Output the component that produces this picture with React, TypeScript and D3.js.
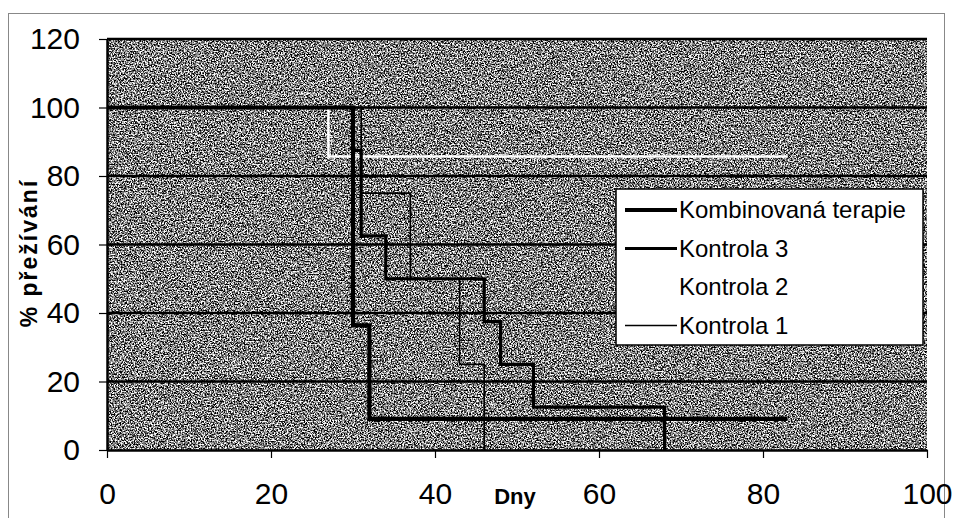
import { useEffect, useRef } from 'react';
import * as d3 from 'd3';

// Kaplan-Meier steps (day, % survival after the drop)
const kombTimes = [0, 30, 32, 83];
const kombSurv = [100, 36.4, 9.1, 9.1];
const k3Times = [0, 30, 31, 34, 46, 48, 52, 68];
const k3Surv = [100, 87.5, 62.5, 50, 37.5, 25, 12.5, 0];
const k2Times = [0, 27, 83];
const k2Surv = [100, 85.7, 85.7];
const k1Times = [0, 31, 37, 43, 46];
const k1Surv = [100, 75, 50, 25, 0];

const xTicks = [0, 20, 40, 60, 80, 100];
const yTicks = [0, 20, 40, 60, 80, 100, 120];

const legendNames = ['Kombinovaná terapie', 'Kontrola 3', 'Kontrola 2', 'Kontrola 1'];

const FONT = '"Liberation Sans", Arial, sans-serif';

export default function App() {
  const svgRef = useRef<SVGSVGElement>(null);

  useEffect(() => {
    if (!svgRef.current) return;
    const svg = d3.select(svgRef.current);
    svg.selectAll('*').remove();

    const W = 953, H = 518;
    const M = { left: 107, right: W - 927, top: 39, bottom: H - 450 };
    const x = d3.scaleLinear().domain([0, 100]).range([M.left, W - M.right]);
    const y = d3.scaleLinear().domain([0, 120]).range([H - M.bottom, M.top]);

    // noisy halftone background
    const defs = svg.append('defs');
    const f = defs.append('filter').attr('id', 'grain')
      .attr('x', 0).attr('y', 0).attr('width', '100%').attr('height', '100%')
      .attr('color-interpolation-filters', 'sRGB');
    f.append('feTurbulence').attr('type', 'fractalNoise')
      .attr('baseFrequency', 0.7).attr('numOctaves', 4).attr('seed', 7);
    f.append('feColorMatrix').attr('type', 'matrix')
      .attr('values', '1 0 0 0 0  1 0 0 0 0  1 0 0 0 0  0 0 0 0 1');
    const ct = f.append('feComponentTransfer');
    ['feFuncR', 'feFuncG', 'feFuncB'].forEach((fn) =>
      ct.append(fn).attr('type', 'linear').attr('slope', 3.2).attr('intercept', -1.1));

    // outer frame
    svg.append('rect')
      .attr('x', 8.5).attr('y', 13.5).attr('width', 936).attr('height', 530)
      .attr('fill', 'white').attr('stroke', '#888').attr('stroke-width', 1);

    svg.append('rect')
      .attr('x', x(0)).attr('y', y(120))
      .attr('width', x(100) - x(0)).attr('height', y(0) - y(120))
      .attr('fill', '#777')
      .attr('filter', 'url(#grain)');

    // gridlines
    svg.append('g').selectAll('line')
      .data(yTicks.filter((d) => d > 0))
      .join('line')
      .attr('x1', x(0)).attr('x2', x(100))
      .attr('y1', (d) => y(d)).attr('y2', (d) => y(d))
      .attr('stroke', '#000').attr('stroke-width', 2.5);

    // axes
    const yAxis = svg.append('g').attr('transform', `translate(${x(0)},0)`)
      .call(d3.axisLeft(y).tickValues(yTicks).tickSize(8).tickPadding(19).tickSizeOuter(0));
    const xAxis = svg.append('g').attr('transform', `translate(0,${y(0)})`)
      .call(d3.axisBottom(x).tickValues(xTicks).tickSize(8).tickPadding(25).tickSizeOuter(0));
    [yAxis, xAxis].forEach((a) => {
      a.select('.domain').attr('stroke', '#000').attr('stroke-width', 2.5);
      a.selectAll('.tick line').attr('stroke', '#000').attr('stroke-width', 1.2);
      a.selectAll('.tick text').attr('font-family', FONT).attr('font-size', 30).attr('fill', '#000');
    });

    // titles
    svg.append('text')
      .attr('x', 515).attr('y', 504)
      .attr('text-anchor', 'middle')
      .attr('font-family', FONT).attr('font-size', 22).attr('font-weight', 'bold')
      .text('Dny');
    svg.append('text')
      .attr('transform', `translate(37,253) rotate(-90)`)
      .attr('text-anchor', 'middle')
      .attr('font-family', FONT).attr('font-size', 23).attr('font-weight', 'bold')
      .attr('letter-spacing', 2)
      .text('% přežívání');

    // survival curves
    const line = d3.line<[number, number]>()
      .x((d) => x(d[0])).y((d) => y(d[1]))
      .curve(d3.curveStepAfter);
    const zip = (t: number[], s: number[]) => t.map((d, i) => [d, s[i]] as [number, number]);
    const series = [
      { pts: zip(k2Times, k2Surv), color: '#fff', w: 2.5 },
      { pts: zip(k1Times, k1Surv), color: '#000', w: 1.6 },
      { pts: zip(k3Times, k3Surv), color: '#000', w: 3.2 },
      { pts: zip(kombTimes, kombSurv), color: '#000', w: 4.2 },
    ];
    series.forEach((s) => {
      svg.append('path')
        .attr('d', line(s.pts))
        .attr('fill', 'none')
        .attr('stroke', s.color)
        .attr('stroke-width', s.w);
    });

    // legend
    const lg = svg.append('g').attr('transform', 'translate(616,189)');
    lg.append('rect').attr('width', 307).attr('height', 156)
      .attr('fill', '#fff').attr('stroke', '#000').attr('stroke-width', 1.5);
    const legendW = [4.2, 3.2, 2.5, 1.6];
    const legendC = ['#000', '#000', '#fff', '#000'];
    legendNames.forEach((name, i) => {
      const by = 29 + i * 38.5;
      lg.append('line')
        .attr('x1', 9).attr('x2', 61).attr('y1', by - 8).attr('y2', by - 8)
        .attr('stroke', legendC[i]).attr('stroke-width', legendW[i]);
      lg.append('text')
        .attr('x', 63).attr('y', by)
        .attr('font-family', FONT).attr('font-size', 24).attr('fill', '#000')
        .text(name);
    });
  }, []);

  return (
    <div style={{ position: 'absolute', left: 0, top: 0 }}>
      <svg ref={svgRef} width={953} height={518} style={{ display: 'block' }} />
    </div>
  );
}
